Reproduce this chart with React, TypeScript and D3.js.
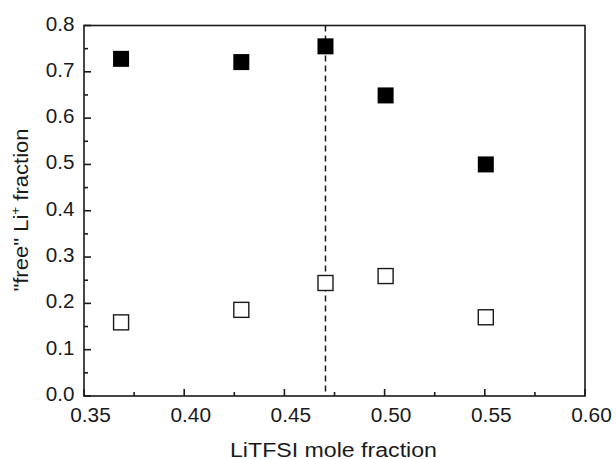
import React from "react";
import * as d3 from "d3";

const xFilled = [0.3685, 0.4285, 0.4705, 0.5005, 0.5505];
const yFilled = [0.728, 0.721, 0.755, 0.649, 0.500];
const xOpen = [0.3685, 0.4285, 0.4705, 0.5005, 0.5505];
const yOpen = [0.159, 0.186, 0.244, 0.259, 0.170];
const dashedX = 0.4705;
const xTicks = [0.35, 0.40, 0.45, 0.50, 0.55, 0.60];
const yTicks = [0.0, 0.1, 0.2, 0.3, 0.4, 0.5, 0.6, 0.7, 0.8];
const xTitle = "LiTFSI mole fraction";

export default function App() {
  const W = 616, H = 459;
  const left = 84, right = 585, top = 25.5, bottom = 396;
  const x = d3.scaleLinear().domain([0.35, 0.6]).range([left, right]);
  const y = d3.scaleLinear().domain([0, 0.8]).range([bottom, top]);
  const font = "Liberation Sans, Arial, sans-serif";
  const xMinor = d3.range(0, 5).map(i => 0.375 + i * 0.05);
  const yMinor = d3.range(0, 8).map(i => 0.05 + i * 0.1);
  const fs = 19.5;
  const ink = "#1a1a1a";
  return (
    <svg width={W} height={H} style={{ position: "absolute", left: 0, top: 0, background: "#fff" }}>
      <rect x={0} y={0} width={W} height={H} fill="#fff" />
      <line x1={x(dashedX)} x2={x(dashedX)} y1={top} y2={bottom} stroke={ink} strokeWidth={1.5} strokeDasharray="6,4" />
      <rect x={left} y={top} width={right - left} height={bottom - top} fill="none" stroke={ink} strokeWidth={1.6} />
      {xTicks.map(t => (
        <g key={"xt" + t}>
          <line x1={x(t)} x2={x(t)} y1={bottom} y2={bottom - 7} stroke={ink} strokeWidth={1.6} />
          <g transform={`translate(${x(t) + 6.5}, ${bottom + 25.5}) scale(1.07,1)`}>
            <text x={0} y={0} textAnchor="middle" fontSize={fs} fontFamily={font} fill={ink}>{t.toFixed(2)}</text>
          </g>
        </g>
      ))}
      {xMinor.map(t => (
        <line key={"xm" + t} x1={x(t)} x2={x(t)} y1={bottom} y2={bottom - 4} stroke={ink} strokeWidth={1.6} />
      ))}
      {yTicks.map(t => (
        <g key={"yt" + t}>
          <line x1={left} x2={left + 7} y1={y(t)} y2={y(t)} stroke={ink} strokeWidth={1.6} />
          <g transform={`translate(${left - 9.5}, ${y(t) + 5}) scale(1.06,1)`}>
            <text x={0} y={0} textAnchor="end" fontSize={fs} fontFamily={font} fill={ink}>{t.toFixed(1)}</text>
          </g>
        </g>
      ))}
      {yMinor.map(t => (
        <line key={"ym" + t} x1={left} x2={left + 4} y1={y(t)} y2={y(t)} stroke={ink} strokeWidth={1.6} />
      ))}
      {xFilled.map((v, i) => (
        <rect key={"f" + i} x={x(v) - 8} y={y(yFilled[i]) - 8} width={16} height={16} fill="#000" />
      ))}
      {xOpen.map((v, i) => (
        <rect key={"o" + i} x={x(v) - 7.5} y={y(yOpen[i]) - 7.5} width={15} height={15} fill="#fff" stroke={ink} strokeWidth={1.4} />
      ))}
      <text x={333.5} y={456.5} textAnchor="middle" fontSize={fs} fontFamily={font} fill={ink} textLength={207} lengthAdjust="spacingAndGlyphs">{xTitle}</text>
      <g transform={`translate(27.5, 210) rotate(-90) scale(1.13,1)`}>
        <text x={0} y={0} textAnchor="middle" fontSize={fs} fontFamily={font} fill={ink}>
          "free" Li<tspan dy={-8} fontSize={12}>+</tspan><tspan dy={8}> fraction</tspan>
        </text>
      </g>
    </svg>
  );
}
